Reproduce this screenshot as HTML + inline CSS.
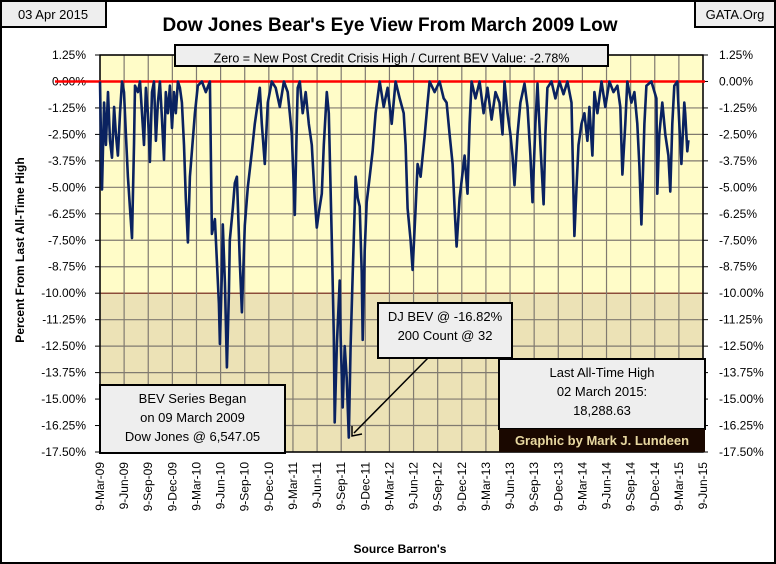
<!DOCTYPE html>
<html><head><meta charset="utf-8"><style>
body{margin:0;background:#fff}
svg{display:block}
text{font-family:"Liberation Sans",sans-serif}
</style></head><body>
<svg id="chart" width="776" height="564" viewBox="0 0 776 564">
<rect x="1" y="1" width="774" height="562" fill="#fff" stroke="#000" stroke-width="2"/>
<rect x="1" y="1" width="105" height="26" fill="#eee" stroke="#000" stroke-width="2"/>
<text x="53" y="19" font-size="13" text-anchor="middle">03 Apr 2015</text>
<rect x="695" y="1" width="80" height="26" fill="#eee" stroke="#000" stroke-width="2"/>
<text x="735" y="19" font-size="13" text-anchor="middle">GATA.Org</text>
<text x="390" y="31" font-size="19" font-weight="bold" text-anchor="middle">Dow Jones Bear's Eye View From March 2009 Low</text>
<g id="plot"></g>
<text transform="translate(24,250) rotate(-90)" font-size="12" font-weight="bold" text-anchor="middle">Percent From Last All-Time High</text>
<text x="400" y="553" font-size="12" font-weight="bold" text-anchor="middle">Source Barron's</text>
</svg>
<script>
const weeks=[0,0.5,1.1,2.2,3.2,4.3,5.4,6.5,7.6,8.6,9.7,10.8,11.9,13,14,15.1,16.2,17.3,18.4,18.9,20.5,21.6,22.7,23.8,24.8,25.9,27,28.1,29.2,30.2,31.3,32.4,33.5,34.6,35.6,36.7,37.8,38.9,40,41,42.1,43.2,44.3,45.4,46.4,47.5,48.6,49.7,51.3,52.9,55.1,57.2,59.4,60.5,62.1,63.2,64.3,64.8,65.9,66.4,67.5,68.6,69.7,70.2,71.8,72.9,74,75.6,76.7,78.3,79.9,82.1,83.7,85.3,86.4,87.5,89.1,90.7,92.9,95,97.2,99.4,101.5,102.6,103.7,105.3,106.4,106.9,108,109.6,111.2,112.9,114.5,116.1,117.2,118.3,119.9,121,122.6,123.7,125.3,126.4,126.9,128,129.6,130.1,131.2,132.3,133.4,134.5,135.5,136.6,137.7,138.2,139.3,140.4,141.5,142,143.1,144.2,145.8,147.4,149,151.2,153.4,155.5,157.7,159.8,162,164.2,165.2,166.3,167.9,169,170.6,171.7,173.3,175.5,177.1,178.2,180.9,183.6,185.8,187.4,189,190.6,191.7,192.8,194.4,195.5,197.1,198.7,199.8,200.9,203,205.2,207.4,209.5,211.7,213.8,216,217.6,218.7,220.3,221.9,223,224.1,225.7,227.3,229.5,231.1,232.7,233.8,235.4,236.5,238.1,239.8,240.8,241.9,244.1,246.2,248.4,250.6,252.7,254.9,256.5,257.6,258.7,260.3,261.9,263.5,264.6,266.2,267.3,268.9,271.1,273.2,275.4,277.6,279.7,281.3,282.4,284,285.1,287.3,288.9,290.5,291.6,292.7,294.3,295.4,298.1,300.8,301.3,302.4,304,305.6,307.3,308.3,309.4,310.5,312.1,313.2,314.3,315.9,316.4,317.5,318.1];
const bev=[0,-2.5,-5.1,-1,-3,-0.5,-2.8,-3.6,-1.2,-2.5,-3.5,-1.5,0,-0.5,-2.5,-4.5,-6,-7.4,-3,-0.2,-0.5,0,-1.5,-3,-0.3,-1.5,-3.8,-0.5,0,-2.8,-1,0,-1.8,-3.7,-0.5,-1.5,-0.2,-2.2,-0.5,-1.5,0,-0.3,-1,-3,-5.5,-7.6,-4.5,-3.3,-1.5,-0.2,0,-0.5,0,-7.2,-6.5,-8.5,-10.5,-12.4,-9,-6.75,-9.5,-13.5,-10,-7.5,-6,-4.8,-4.5,-8.5,-10.9,-6.8,-5,-3.3,-2,-1,-0.3,-2,-3.9,-1,0,-0.3,-1.2,0,-0.5,-1.5,-2.5,-6.3,-2,-0.3,0,-1.5,-0.5,-2,-3,-5.5,-6.9,-6.2,-5.3,-3,-0.5,-1.5,-7.5,-12,-16.1,-12.5,-9.4,-12,-15.4,-12.5,-14,-16.82,-12.5,-9.1,-6,-4.5,-5.5,-5.9,-9,-12.2,-8,-5.7,-4.5,-3.3,-1.5,0,-1.2,-0.3,-2,0,-0.8,-1.5,-3,-6,-7.5,-8.9,-6,-3.9,-4.5,-2.6,-1,0,-0.5,0,-0.8,-1,-2.5,-3.9,-6,-7.8,-5.5,-4.7,-3.5,-5.3,-2,0,-0.8,0,-1.5,-0.3,-1.8,-0.5,-1,-2.5,0,-1.5,-2.5,-3.5,-4.9,-2.5,-1,-0.1,-1.2,-3.5,-5.7,-2,-0.1,-3,-5.8,-2.5,-0.3,0,-0.8,0,-0.6,0,-1,-7.3,-5,-3,-2,-1.5,-2.8,-1.2,-3.5,-0.5,-1.5,0,-1.2,0,-0.5,-0.2,-1.2,-4.4,-2,0,-1,-0.5,-2,-4,-6.75,-2,-0.2,0,-0.8,-5.3,-2.5,-1,-2.5,-3.5,-5.2,-2,-0.2,0,-2,-3.9,-1,-1.5,-3.3,-2.78];
const yTicks=[1.25,0,-1.25,-2.5,-3.75,-5,-6.25,-7.5,-8.75,-10,-11.25,-12.5,-13.75,-15,-16.25,-17.5];
const xTickLabels=["9-Mar-09","9-Jun-09","9-Sep-09","9-Dec-09","9-Mar-10","9-Jun-10","9-Sep-10","9-Dec-10","9-Mar-11","9-Jun-11","9-Sep-11","9-Dec-11","9-Mar-12","9-Jun-12","9-Sep-12","9-Dec-12","9-Mar-13","9-Jun-13","9-Sep-13","9-Dec-13","9-Mar-14","9-Jun-14","9-Sep-14","9-Dec-14","9-Mar-15","9-Jun-15"];
const totalWeeks=326;
const L=100,R=703,T=55,B=452,yMax=1.25,yMin=-17.5;
const X=w=>L+w/totalWeeks*(R-L);
const Y=v=>T+(yMax-v)/(yMax-yMin)*(B-T);
const XQ=i=>L+i/(xTickLabels.length-1)*(R-L);
const NS="http://www.w3.org/2000/svg";
const g=document.getElementById('plot');
function mk(tag,attrs,parent){const e=document.createElementNS(NS,tag);for(const k in attrs)e.setAttribute(k,attrs[k]);(parent||g).appendChild(e);return e;}
let e;
e=mk('rect',{x:L,y:T,width:R-L,height:Y(-10)-T,fill:'#fffcc8'});


e=mk('rect',{x:L,y:Y(-10),width:R-L,height:B-Y(-10),fill:'#ece2b6'});


yTicks.forEach(v=>{
 e=mk('line',{x1:L,x2:R,y1:Y(v),y2:Y(v),stroke:v===-10?'#6b1a10':'#807a70','stroke-width':1.2});
 
 
 const lab=(v<0?'-':'')+Math.abs(v).toFixed(2)+'%';
 e=mk('text',{x:L-14,y:Y(v)+4,'font-size':12,'text-anchor':'end'});e.textContent=lab;
 
 
 e=mk('text',{x:R+16,y:Y(v)+4,'font-size':12});e.textContent=lab;
 
 
 mk('line',{x1:L-5,x2:L,y1:Y(v),y2:Y(v),stroke:'#000'});
 mk('line',{x1:R,x2:R+5,y1:Y(v),y2:Y(v),stroke:'#000'});
});
xTickLabels.forEach((t,i)=>{
 const x=XQ(i);
 e=mk('line',{x1:x,x2:x,y1:T,y2:B,stroke:'#807a70','stroke-width':1.2});
 
 
 e=mk('text',{transform:`translate(${x+4},${B+10}) rotate(-90)`,'font-size':12,'text-anchor':'end'});e.textContent=t;
 
 
});
e=mk('rect',{x:L,y:T,width:R-L,height:B-T,fill:'none',stroke:'#000','stroke-width':1.5});


e=mk('line',{x1:L-45,x2:R+2,y1:Y(0),y2:Y(0),stroke:'#ff0000','stroke-width':2.5});


e=mk('polyline',{points:weeks.map((w,i)=>X(w).toFixed(1)+','+Y(bev[i]).toFixed(1)).join(' '),fill:'none',stroke:'#0a2260','stroke-width':2.6,'stroke-linejoin':'round'});


function box(x,y,w,h,lines,name,fs){
 const r=mk('rect',{x,y,width:w,height:h,fill:'#eeeeee',stroke:'#000','stroke-width':2});
 
 
 lines.forEach((s,i)=>{const t=mk('text',{x:x+w/2,y:y+(fs+6)*(i+1)-1,'font-size':fs,'text-anchor':'middle'});t.textContent=s;
 
 });
}
box(175,45,433,21,["Zero = New Post Credit Crisis High / Current BEV Value:  -2.78%"],'zero-note-box',12.5);
box(378,303,134,55,["DJ BEV @ -16.82%","200 Count @ 32"],'dj-bev-annotation',13);
box(100,385,185,68,["BEV Series Began","on 09 March 2009","Dow Jones @ 6,547.05"],'bev-start-box',13);
box(499,359,206,70,["Last All-Time High","02 March 2015:","18,288.63"],'last-high-box',13);
e=mk('rect',{x:499,y:429,width:206,height:23,fill:'#1a0800'});


e=mk('text',{x:602,y:445,'font-size':13,'font-weight':'bold','text-anchor':'middle',fill:'#e8d8a0','font-family':'Liberation Serif, serif'});e.textContent='Graphic by Mark J. Lundeen';


e=mk('line',{x1:428,y1:358,x2:354,y2:433,stroke:'#000','stroke-width':1.5});


e=mk('polyline',{points:'352,426 352,436 362,434',fill:'none',stroke:'#000','stroke-width':1.5});


</script>
</body></html>
